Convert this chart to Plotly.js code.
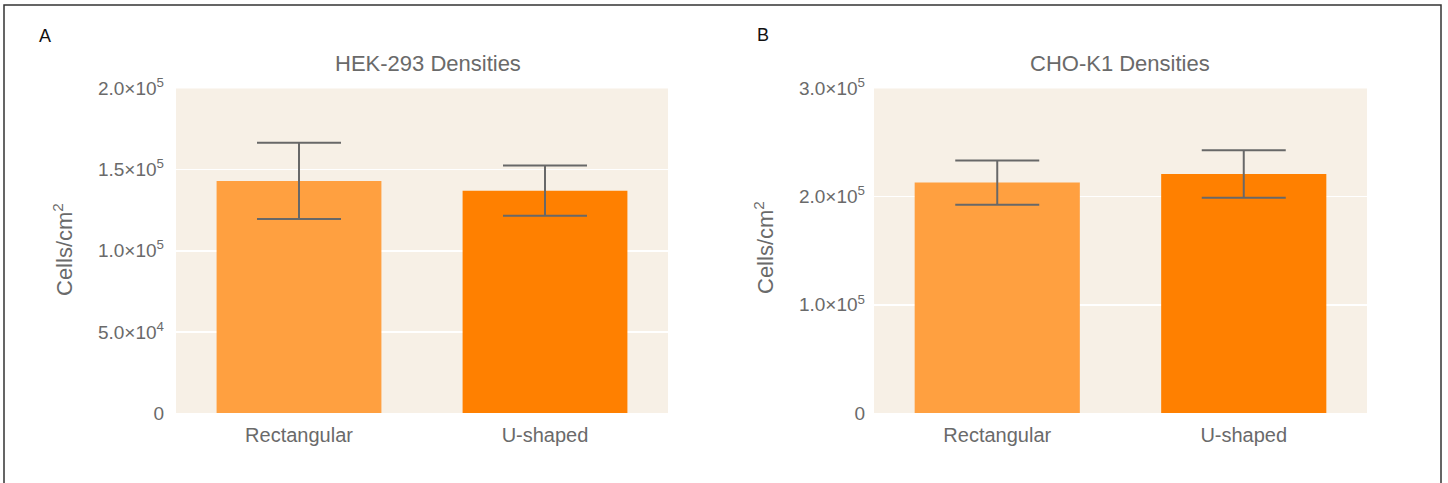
<!DOCTYPE html>
<html>
<head>
<meta charset="utf-8">
<script src="https://cdn.plot.ly/plotly-3.0.1.min.js"></script>
<style>
html,body{margin:0;padding:0;background:#fff;}
#chart{width:1448px;height:483px;}
</style>
</head>
<body>
<div id="chart"></div>
<script>
// ---- data ----
const categories = ["Rectangular", "U-shaped"];
const hekMeans = [143000, 137000];
const hekErrors = [23500, 15500];
const choMeans = [213000, 221000];
const choErrors = [20500, 22000];
const hekTickVals = [0, 50000, 100000, 150000, 200000];
const hekTickText = ["0", "5.0×10<sup>4</sup>", "1.0×10<sup>5</sup>", "1.5×10<sup>5</sup>", "2.0×10<sup>5</sup>"];
const choTickVals = [0, 100000, 200000, 300000];
const choTickText = ["0", "1.0×10<sup>5</sup>", "2.0×10<sup>5</sup>", "3.0×10<sup>5</sup>"];
const barColors = ["#ffa040", "#ff8000"];
const panelTitles = ["HEK-293 Densities", "CHO-K1 Densities"];
const panelLetters = ["A", "B"];
const yTitle = "Cells/cm<sup>2</sup>";

const W = 1448, H = 483;
const font = "Liberation Sans, Arial, sans-serif";
const gray = "#6a6a6a";

function errBar(arr) {
  return {type: "data", array: arr, visible: true, color: "#686868", thickness: 2, width: 42};
}

const traces = [
  {type: "bar", x: categories, y: hekMeans, xaxis: "x", yaxis: "y",
   marker: {color: barColors}, error_y: errBar(hekErrors), hoverinfo: "none"},
  {type: "bar", x: categories, y: choMeans, xaxis: "x2", yaxis: "y2",
   marker: {color: barColors}, error_y: errBar(choErrors), hoverinfo: "none"}
];

const yDom = [(H - 413) / H, (H - 88.5) / H];
const x1Dom = [176 / W, 668 / W];
const x2Dom = [874 / W, 1367 / W];

function yaxis(range, vals, text, standoff, anchor) {
  return {
    domain: yDom, range: range, anchor: anchor,
    tickmode: "array", tickvals: vals, ticktext: text,
    showgrid: true, gridcolor: "#ffffff", gridwidth: 1.5,
    zeroline: false, showline: false, ticks: "",
    ticklabelstandoff: standoff,
    tickfont: {family: font, size: 19, color: gray},
    fixedrange: true
  };
}
function xaxis(dom, anchor) {
  return {
    domain: dom, anchor: anchor, showgrid: false, zeroline: false, showline: false, ticks: "",
    ticklabelstandoff: 8,
    tickfont: {family: font, size: 20, color: gray}, fixedrange: true
  };
}

function ann(text, x, y, size, color, angle) {
  return {text: text, xref: "paper", yref: "paper", x: x / W, y: (H - y) / H,
    xanchor: "center", yanchor: "middle", showarrow: false, textangle: angle || 0,
    font: {family: font, size: size, color: color}};
}

const layout = {
  width: W, height: H,
  margin: {l: 0, r: 0, t: 0, b: 0},
  paper_bgcolor: "#ffffff",
  plot_bgcolor: "#f7f0e6",
  showlegend: false,
  bargap: 0.33,
  font: {family: font, color: gray},
  xaxis: xaxis(x1Dom, "y"),
  yaxis: yaxis([0, 200000], hekTickVals, hekTickText, 11, "x"),
  xaxis2: xaxis(x2Dom, "y2"),
  yaxis2: yaxis([0, 300000], choTickVals, choTickText, 8, "x2"),
  shapes: [
    {type: "rect", xref: "paper", yref: "paper",
     x0: 4 / W, x1: 1441 / W, y0: -10 / H, y1: (H - 5) / H,
     line: {color: "#333333", width: 1.5}, fillcolor: "rgba(0,0,0,0)", layer: "above"}
  ],
  annotations: [
    ann(panelLetters[0], 45, 36, 18, "#111111"),
    ann(panelLetters[1], 763, 35, 18, "#111111"),
    ann(panelTitles[0], 428, 64, 22, gray),
    ann(panelTitles[1], 1120, 64, 22, gray),
    ann(yTitle, 63, 250, 22, gray, -90),
    ann(yTitle, 764, 248, 22, gray, -90)
  ]
};

Plotly.newPlot("chart", traces, layout, {displayModeBar: false, staticPlot: true});
</script>
</body>
</html>
